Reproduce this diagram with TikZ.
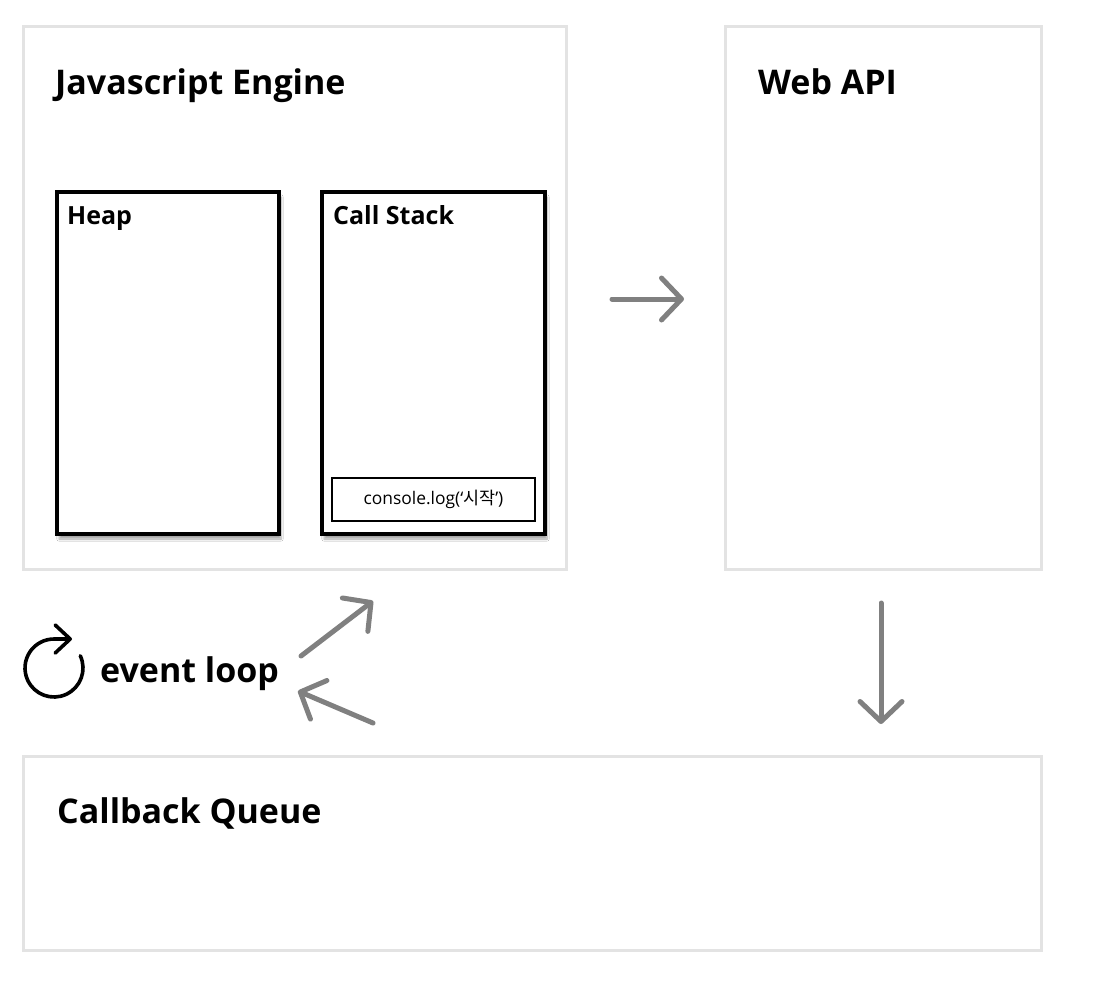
\documentclass[tikz,border=0pt]{standalone}
\usepackage{fontspec}
\setmainfont{Open Sans}[BoldFont={Open Sans Bold}]
\newfontfamily\cjk{Noto Sans CJK KR}
\usetikzlibrary{arrows.meta,shadows.blur}
\definecolor{panelgray}{HTML}{E3E3E3}
\definecolor{arrowgray}{HTML}{808080}
\tikzset{
  panel/.style={draw=panelgray, line width=3pt, fill=white},
  membox/.style={draw=black, line width=4pt, fill=white, blur shadow={shadow xshift=2pt, shadow yshift=-5pt, shadow blur steps=8, shadow opacity=35}},
  framebox/.style={draw=black, line width=1.8pt, fill=white},
  title/.style={anchor=base west, font=\bfseries\fontsize{34}{40}\selectfont, inner sep=0pt},
  subtitle/.style={anchor=base west, font=\bfseries\fontsize{25}{30}\selectfont, inner sep=0pt},
  flow/.style={draw=arrowgray, line width=5pt, line cap=round, -{Straight Barb[length=20pt,width=42pt,line cap=round,line join=round]}},
}
\begin{document}
\begin{tikzpicture}[x=1pt,y=-1pt]
\useasboundingbox[fill=white] (0,0) rectangle (1107,991);
% panels
\draw[panel] (23,26) rectangle (566,569);
\draw[panel] (725,26) rectangle (1041,569);
\draw[panel] (23,756) rectangle (1041,950);
\node[title] (jse) at (55,94) {Javascript Engine};
\node[title] (wapi) at (758,94) {Web API};
\node[title] (cbq) at (57,823) {Callback Queue};
% heap and stack
\path[membox] (57,192) rectangle (279,534);
\path[membox] (322,192) rectangle (545,534);
\node[subtitle] (heap) at (67,224) {Heap};
\node[subtitle] (cs) at (333,224) {Call Stack};
\node[framebox, minimum width=203pt, minimum height=43pt, inner sep=0pt, font=\fontsize{17.4}{21}\selectfont] (log) at (433.5,499.5) {console.log(‘{\cjk 시작}’)};
% arrows
\coordinate (a1s) at (612,299); \coordinate (a1e) at (684,299);
\draw[flow] (a1s) -- (a1e);
\coordinate (a2s) at (881,603); \coordinate (a2e) at (881,724);
\draw[flow] (a2s) -- (a2e);
\coordinate (a3s) at (301,656); \coordinate (a3e) at (373,601);
\draw[flow] (a3s) -- (a3e);
\coordinate (a4s) at (373,723); \coordinate (a4e) at (298,691);
\draw[flow] (a4s) -- (a4e);
% event loop
\coordinate (lc) at (54,668);
\draw[line width=3.6pt, line cap=round, -{Straight Barb[length=15pt,width=28pt,line cap=round,line join=round]}] ([shift={(25:29pt)}]lc) arc[start angle=25, end angle=-270, radius=29pt] -- ++(18pt,0pt);
\node[anchor=base west, font=\bfseries\fontsize{34}{40}\selectfont, inner sep=0pt] (el) at (100,682) {event loop};
\end{tikzpicture}
\end{document}
